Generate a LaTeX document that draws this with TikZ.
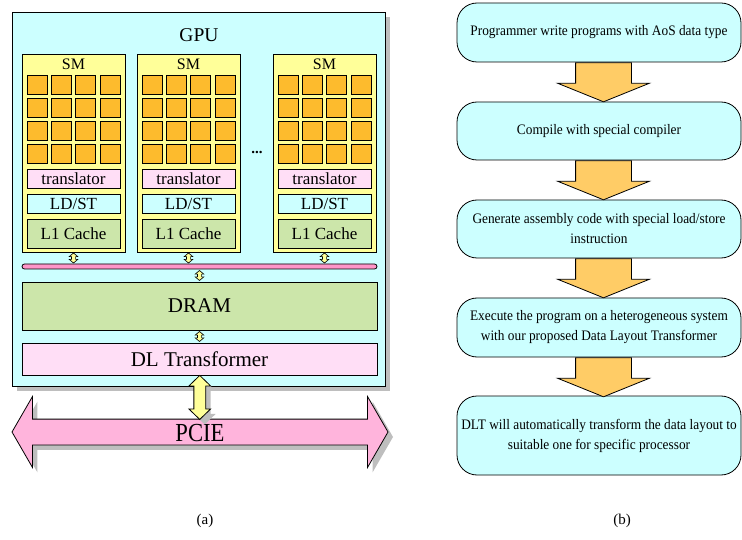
\documentclass[tikz,border=0pt]{standalone}
\usepackage{fontspec}
\setmainfont{Liberation Serif}
\newfontfamily\flowfont[FakeStretch=0.92]{Liberation Serif}
\newfontfamily\pciefont[FakeStretch=0.87]{Liberation Serif}
\usetikzlibrary{shapes.arrows,shadows,calc}
\definecolor{gpucyan}{RGB}{204,255,255}
\definecolor{smyellow}{RGB}{255,255,153}
\definecolor{coreorange}{RGB}{253,187,45}
\definecolor{transpink}{RGB}{255,222,246}
\definecolor{cachegreen}{RGB}{204,230,170}
\definecolor{buspink}{RGB}{255,150,200}
\definecolor{pciepink}{RGB}{255,180,220}
\definecolor{flowgold}{RGB}{255,204,102}
\definecolor{shadowgray}{RGB}{190,190,190}
\tikzset{
  box/.style={draw, line width=0.8pt, inner sep=0pt},
  core/.style={box, fill=coreorange, minimum width=20pt, minimum height=19pt},
  smpart/.style={box, minimum width=93pt, font=\fontsize{17}{17}\selectfont},
  gshadow/.style={drop shadow={shadow xshift=5pt, shadow yshift=-5pt, fill=shadowgray, opacity=1}},
  tinyarrow/.style={draw, line width=0.6pt, fill=smyellow, double arrow, rotate=90,
    inner xsep=0pt, inner ysep=1.75pt, minimum height=10pt, minimum width=8pt,
    double arrow head extend=2.25pt, double arrow tip angle=100},
  flowbox/.style={draw, line width=0.8pt, fill=gpucyan, rounded corners=20pt, minimum width=284pt,
    inner xsep=1pt, align=center, font=\flowfont\fontsize{14.5}{20}\selectfont},
  flowdown/.style={draw, line width=0.8pt, fill=flowgold, single arrow, rotate=-90, anchor=tail,
    inner xsep=0pt, inner ysep=27.5pt, minimum height=39pt, minimum width=91pt,
    single arrow head extend=18pt, single arrow tip angle=136},
}
\begin{document}
\begin{tikzpicture}[x=1pt,y=-1pt]
\useasboundingbox (0,0) rectangle (742,540);
% (a) GPU
\node[box, fill=gpucyan, gshadow, minimum width=373pt, minimum height=374pt] (gpu) at (198.5,199) {};
\node[font=\fontsize{19.5}{20}\selectfont] (gputxt) at (199,35) {GPU};
\foreach \x/\n in {22/1,137/2,273/3}{
  \node[box, fill=smyellow, minimum width=103pt, minimum height=198pt] (sm\n) at (\x+51.5,153) {};
  \node[font=\fontsize{16}{16}\selectfont] (smtxt\n) at (\x+51.5,64) {SM};
  \foreach \i in {0,...,3}
    \foreach \j in {0,...,3}
      \node[core] (core\n\i\j) at (\x+15+24.3*\i,84.5+23.1*\j) {};
  \node[smpart, fill=transpink, minimum height=19pt] (tr\n) at (\x+51.5,178.5) {translator};
  \node[smpart, fill=gpucyan, minimum height=19pt] (ldst\n) at (\x+51.5,203.5) {LD/ST};
  \node[smpart, fill=cachegreen, minimum height=29pt] (cache\n) at (\x+51.5,233.5) {L1 Cache};
}
\node[font=\bfseries\fontsize{15}{15}\selectfont] (dots) at (257,152) {...};
\node[box, fill=buspink, rounded corners=2.5pt, minimum width=355pt, minimum height=5pt] (bus) at (199.5,266.5) {};
\node[box, fill=cachegreen, minimum width=355pt, minimum height=48pt, font=\fontsize{21}{21}\selectfont] (dram) at (199.5,306) {DRAM};
\node[box, fill=transpink, minimum width=355pt, minimum height=32pt, font=\fontsize{21}{21}\selectfont] (dlt) at (199.5,359) {DL Transformer};
\foreach \n in {1,2,3}
  \node[tinyarrow] (smbus\n) at ($(sm\n.south)!0.5!(sm\n.south |- bus.north)$) {};
\node[tinyarrow] (busdram) at ($(bus.south)!0.5!(dram.north)$) {};
\node[tinyarrow] (dramdlt) at ($(dram.south)!0.5!(dlt.north)$) {};
% PCIE
\node[draw, line width=0.8pt, fill=pciepink, gshadow, double arrow, inner xsep=0pt, inner ysep=12.5pt,
  minimum height=376pt, minimum width=70pt, double arrow head extend=22.5pt,
  double arrow tip angle=120] (pcie) at (200,432) {};
\node[font=\pciefont\fontsize{26}{26}\selectfont] (pcietxt) at (200,433) {PCIE};
\coordinate (pcietop) at ($(pcie.center)+(0,-12.5)$);
\node[draw, line width=0.8pt, fill=smyellow, gshadow, double arrow, rotate=90, inner xsep=0pt, inner ysep=5.5pt,
  minimum height=44pt, minimum width=21pt, double arrow head extend=5pt,
  double arrow tip angle=92] (link) at ($(dlt.south)!0.5!(pcietop)$) {};
% (b) flow
\node[flowbox, minimum height=59pt] (step1) at (599,32.5) {Programmer write programs with AoS data type};
\node[flowbox, minimum height=58pt] (step2) at (599,131) {Compile with special compiler};
\node[flowbox, minimum height=58pt] (step3) at (599,229) {Generate assembly code with special load/store\\instruction};
\node[flowbox, minimum height=59pt] (step4) at (599,327.5) {Execute the program on a heterogeneous system\\with our proposed Data Layout Transformer};
\node[flowbox, minimum height=79pt] (step5) at (599,435.5) {DLT will automatically transform the data layout to\\suitable one for specific processor};
\foreach \a/\b in {1/2,2/3,3/4,4/5}
  \node[flowdown] (arr\a\b) at (step\a.south -| 603.5,0) {};
\node[font=\fontsize{15}{15}\selectfont] (capa) at (205,521) {(a)};
\node[font=\fontsize{15}{15}\selectfont] (capb) at (622,521) {(b)};
\end{tikzpicture}
\end{document}
